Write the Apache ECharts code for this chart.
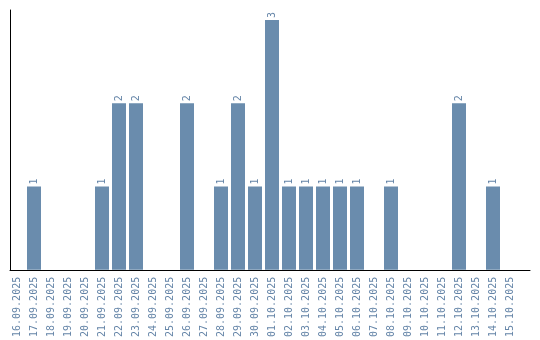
<!DOCTYPE html>
<html>
<head>
<meta charset="utf-8">
<script src="https://cdn.jsdelivr.net/npm/echarts@6/dist/echarts.min.js"></script>
<style>
    html, body { margin: 0; padding: 0; background: #fff; }
    #chart { width: 540px; height: 340px; }
</style>
</head>
<body>
<div id="chart"></div>
<script>
var days = ["16.09.2025", "17.09.2025", "18.09.2025", "19.09.2025", "20.09.2025",
    "21.09.2025", "22.09.2025", "23.09.2025", "24.09.2025", "25.09.2025",
    "26.09.2025", "27.09.2025", "28.09.2025", "29.09.2025", "30.09.2025",
    "01.10.2025", "02.10.2025", "03.10.2025", "04.10.2025", "05.10.2025",
    "06.10.2025", "07.10.2025", "08.10.2025", "09.10.2025", "10.10.2025",
    "11.10.2025", "12.10.2025", "13.10.2025", "14.10.2025", "15.10.2025"];
var counts = [0, 1, 0, 0, 0, 1, 2, 2, 0, 0, 2, 0, 1, 2, 1,
    3, 1, 1, 1, 1, 1, 0, 1, 0, 0, 0, 2, 0, 1, 0];

window.addEventListener("load", function () {
    var barColor = "#6a8cad";
    var textColor = "#6585a8";
    var mono = "DejaVu Sans Mono";
    var myChart = echarts.init(document.getElementById("chart"));

    var option = {
        animation: false,
        // grid 0 only draws the frame lines, grid 1 holds the bars
        grid: [
            { left: 10, right: 10, top: 10, bottom: 70 },
            { left: 8.5, right: 21.5, top: 20, bottom: 70 }
        ],
        xAxis: [
            {
                gridIndex: 0,
                type: "value",
                min: 0,
                max: 1,
                axisLine: { show: true, lineStyle: { color: "#000", width: 1 } },
                axisTick: { show: false },
                axisLabel: { show: false },
                splitLine: { show: false }
            },
            {
                gridIndex: 1,
                type: "category",
                data: days,
                axisLine: { show: false },
                axisTick: { show: false },
                axisLabel: {
                    interval: 0,
                    rotate: 90,
                    margin: 7,
                    color: textColor,
                    fontFamily: mono,
                    fontSize: 10
                }
            }
        ],
        yAxis: [
            {
                gridIndex: 0,
                type: "value",
                min: 0,
                max: 1,
                axisLine: { show: true, lineStyle: { color: "#000", width: 1 } },
                axisTick: { show: false },
                axisLabel: { show: false },
                splitLine: { show: false }
            },
            {
                gridIndex: 1,
                type: "value",
                min: 0,
                max: 3,
                show: false
            }
        ],
        series: [
            {
                type: "bar",
                xAxisIndex: 1,
                yAxisIndex: 1,
                data: counts,
                barWidth: 14,
                itemStyle: { color: barColor },
                label: {
                    show: true,
                    position: "top",
                    rotate: 90,
                    align: "left",
                    verticalAlign: "middle",
                    distance: 2,
                    color: textColor,
                    fontFamily: mono,
                    fontSize: 10,
                    formatter: function (p) {
                        return p.value ? String(p.value) : "";
                    }
                }
            }
        ]
    };
    myChart.setOption(option);
});
</script>
</body>
</html>
